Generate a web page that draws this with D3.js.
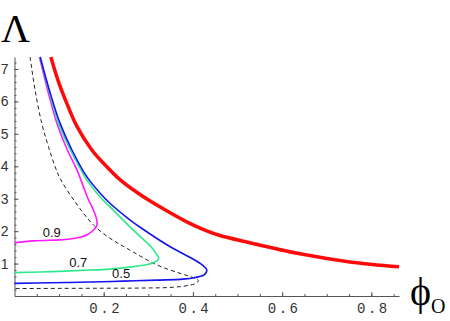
<!DOCTYPE html>
<html>
<head>
<meta charset="utf-8">
<script src="https://cdn.jsdelivr.net/npm/d3@7"></script>
<style>
body { margin: 0; background: #fff; }
svg { display: block; }
.axis path, .axis line { stroke: #555; stroke-width: 1; }
.axis text { fill: #333; }
</style>
</head>
<body>
<svg width="450" height="321"></svg>
<script>
var svg = d3.select('svg');

// curves as [phi0, Lambda] points, ordered along each curve
var redCurve = [[0.0815,7.37],[0.0985,6.61],[0.117,5.95],[0.140,5.23],[0.173,4.51],[0.199,4.10],[0.237,3.58],
  [0.289,3.06],[0.345,2.60],[0.393,2.24],[0.42,2.07],[0.457,1.88],[0.528,1.64],[0.640,1.30],[0.752,1.05],[0.862,0.90]];
var dashedCurve = [[0.035,7.37],[0.046,6.36],[0.061,5.33],[0.076,4.61],[0.091,3.99],[0.102,3.63],[0.135,2.92],
  [0.177,2.19],[0.214,1.78],[0.252,1.47],[0.319,0.96],[0.371,0.70],[0.398,0.58],[0.412,0.48],[0.408,0.40],
  [0.395,0.34],[0.356,0.27],[0.282,0.245],[0.2,0.24],[0.1,0.235],[0,0.23]];
var blueCurve = [[0.0576,7.37],[0.080,6.26],[0.102,5.33],[0.1285,4.51],[0.162,3.68],[0.192,3.17],[0.214,2.86],
  [0.252,2.42],[0.289,2.05],[0.349,1.52],[0.395,1.18],[0.420,0.97],[0.431,0.80],[0.425,0.65],[0.405,0.57],
  [0.378,0.52],[0.319,0.49],[0.244,0.46],[0.170,0.43],[0.08,0.41],[0,0.39]];
var greenCurve = [[0.057,7.37],[0.078,6.30],[0.0985,5.33],[0.125,4.51],[0.147,3.94],[0.162,3.58],[0.192,3.05],
  [0.214,2.75],[0.248,2.28],[0.282,1.83],[0.304,1.55],[0.318,1.30],[0.323,1.16],[0.316,1.05],[0.300,0.98],
  [0.259,0.89],[0.207,0.82],[0.170,0.80],[0.1,0.76],[0,0.72]];
var magentaCurve = [[0.056,7.37],[0.076,6.26],[0.095,5.33],[0.117,4.55],[0.140,3.89],[0.155,3.35],[0.166,2.96],
  [0.177,2.65],[0.185,2.30],[0.184,2.15],[0.176,2.02],[0.163,1.89],[0.147,1.81],[0.125,1.76],[0.102,1.73],
  [0.043,1.70],[0,1.64]];

var xTicks = [0.2, 0.4, 0.6, 0.8];
var yTicks = [1, 2, 3, 4, 5, 6, 7];
var curveLabels = ['0.9', '0.7', '0.5'];
var labelPos = [[0.0835,1.73],[0.143,0.80],[0.239,0.47]];   // where the labels sit (data coords)

var x = d3.scaleLinear().domain([0, 0.862]).range([14.5, 399]);
var y = d3.scaleLinear().domain([0, 7.37]).range([296, 57]);

// minor ticks first, then major axes on top
svg.append('g').attr('class','axis').attr('transform','translate(0,296)')
  .call(d3.axisBottom(x).tickValues(d3.range(0.05, 0.86, 0.05)).tickSize(-2).tickFormat(''))
  .select('.domain').remove();
svg.append('g').attr('class','axis').attr('transform','translate(14.5,0)')
  .call(d3.axisLeft(y).tickValues(d3.range(0.2, 7.3, 0.2)).tickSize(-2).tickFormat(''))
  .select('.domain').remove();

var xAxis = svg.append('g').attr('class','axis').attr('transform','translate(0,296)')
  .call(d3.axisBottom(x).tickValues(xTicks).tickSize(-4).tickSizeOuter(0).tickPadding(7).tickFormat(d3.format('.1f')));
xAxis.selectAll('text').style('font', '14px "Liberation Mono", monospace').style('letter-spacing','2.5px').attr('dx','1.5px');

var yAxis = svg.append('g').attr('class','axis').attr('transform','translate(14.5,0)')
  .call(d3.axisLeft(y).tickValues(yTicks).tickSize(-4).tickSizeOuter(0).tickPadding(6).tickFormat(d3.format('d')));
yAxis.selectAll('text').style('font', '14px "Liberation Sans", Arial, sans-serif');

var line = d3.line()
  .x(function(d){ return x(d[0]); })
  .y(function(d){ return y(d[1]); })
  .curve(d3.curveCatmullRom.alpha(0.5));

svg.append('path').datum(dashedCurve).attr('d', line)
  .attr('fill','none').attr('stroke','#222').attr('stroke-width',1).attr('stroke-dasharray','4,3');
svg.append('path').datum(magentaCurve).attr('d', line)
  .attr('fill','none').attr('stroke','#ff1aff').attr('stroke-width',1.6);
svg.append('path').datum(greenCurve).attr('d', line)
  .attr('fill','none').attr('stroke','#2ee88c').attr('stroke-width',1.6);
svg.append('path').datum(blueCurve).attr('d', line)
  .attr('fill','none').attr('stroke','#1414ee').attr('stroke-width',1.6);
svg.append('path').datum(redCurve).attr('d', line)
  .attr('fill','none').attr('stroke','#ff0a0a').attr('stroke-width',3.5);

// curve labels
svg.selectAll('.clabel')
  .data(curveLabels)
  .enter()
  .append('text')
  .attr('class','clabel')
  .attr('x', function(d,i){ return x(labelPos[i][0]); })
  .attr('y', function(d,i){ return y(labelPos[i][1]) - 3; })
  .attr('text-anchor','middle')
  .style('font','13px "Liberation Sans", Arial, sans-serif')
  .style('fill','#111')
  .text(function(d){ return d; });

// axis titles
svg.append('text')
  .attr('x', 1).attr('y', 42)
  .style('font','40px "Liberation Serif", "Times New Roman", serif')
  .text('Λ');

var phi = svg.append('text')
  .attr('x', 410).attr('y', 305)
  .style('font','40px "Liberation Serif", "Times New Roman", serif')
  .text('ϕ');
phi.append('tspan')
  .attr('dy', 8)
  .style('font-size','20px')
  .text('O');
</script>
</body>
</html>
